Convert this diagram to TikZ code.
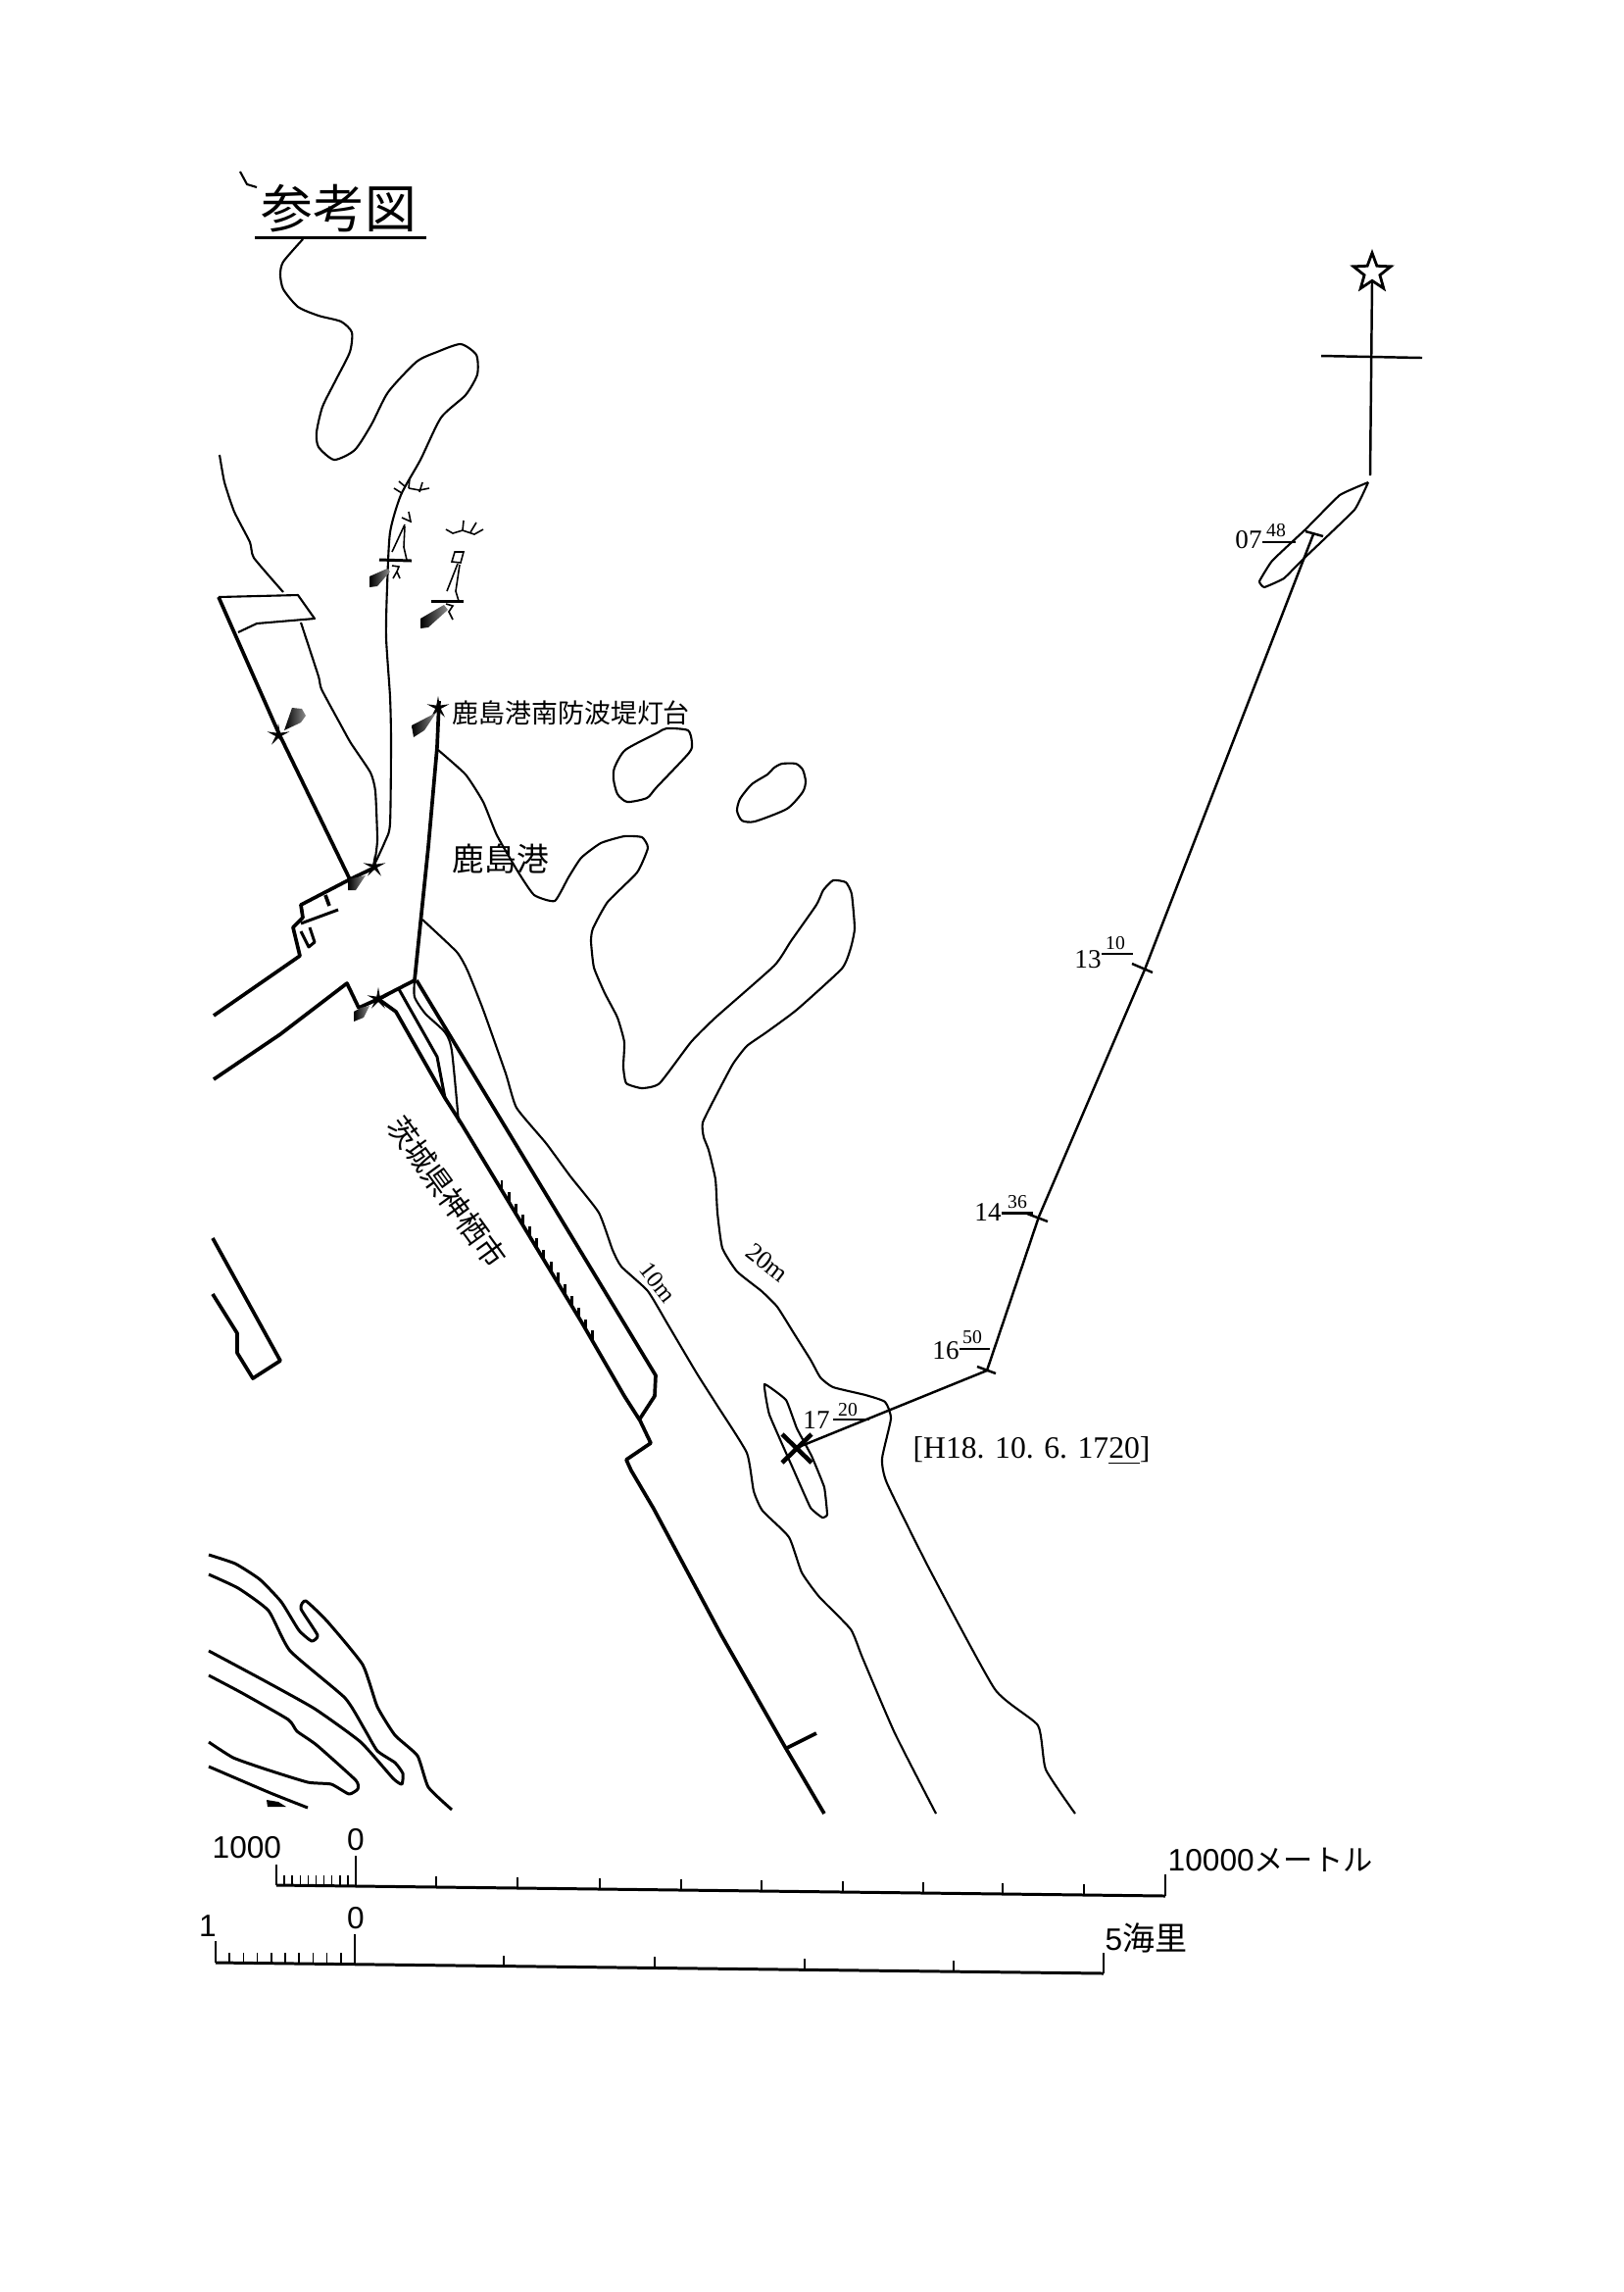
\documentclass[tikz,border=0pt]{standalone}
\usepackage{fontspec}
\setmainfont{Liberation Serif}
\newfontfamily\jpfont{Noto Sans CJK JP}
\newfontfamily\hlvfont{Liberation Sans}
\usetikzlibrary{shapes.geometric}
\tikzset{
  coast/.style={line width=0.6pt,line join=round},
  wall/.style={line width=1.05pt,line join=round},
  river/.style={line width=0.85pt,line join=round},
  thinmark/.style={line width=0.45pt},
  track/.style={line width=0.7pt},
  hatch/.style={left color=black,right color=black!45,draw=none},
  lightstar/.style={star,star points=5,star point ratio=4,fill=black,inner sep=0pt,minimum size=0.24cm},
  timelbl/.style={inner sep=0pt,font=\fontsize{7.7}{8}\selectfont},
  minlbl/.style={inner sep=0pt,font=\fontsize{5.6}{6}\selectfont},
  jplbl/.style={inner sep=0pt,font=\jpfont\fontsize{9.3}{10}\selectfont},
  barlbl/.style={inner sep=0pt,font=\hlvfont\fontsize{9}{10}\selectfont}
}
\begin{document}
\begin{tikzpicture}[x=0.01cm,y=-0.01cm]
\useasboundingbox (0,0) rectangle (1656,2338);
% title
\node[inner sep=0pt,font=\jpfont\fontsize{15}{15}\selectfont] (title) at (346,213) {参考図};
\coordinate (ulA) at (260,242);
\coordinate (ulB) at (435,242);
\draw[river] (ulA) -- (ulB);
\draw[coast] (245,175) -- (252,188) -- (262,191);
% coast north of the port
\draw[coast] plot[smooth,tension=.4] coordinates {(309,244) (289,267) (286,280) (289,295) (304,313) (325,322) (348,328) (359,339) (357,359) (343,387) (329,415) (323,441) (325,456) (341,469) (362,459) (379,433) (396,400) (425,369) (446,359) (470,351) (486,362) (487,382) (475,403) (450,426) (429,469) (409,505) (398,543) (395,599) (394,650) (398,711) (399,757) (398,840) (393,858) (382,882)};
\draw[coast] plot[smooth,tension=.3] coordinates {(224,464) (229,492) (239,522) (255,553) (259,569) (289,604)};
\draw[coast] plot[smooth,tension=.3] coordinates {(307,635) (325,690) (328,703) (348,740) (358,758) (378,788) (383,807) (385,857) (382,882)};
\draw[coast] (223,609) -- (304,607) -- (321,631) -- (262,636) -- (243,645);
% breakwaters and the shore
\draw[wall] (223,609) -- (284,747) -- (357,897);
\draw[wall] (448,715) -- (446,762) -- (437,864) -- (423,1000);
\draw[wall] (382,885) -- (357,897) -- (307,923) -- (309,936) -- (299,946) -- (306,975) -- (218,1036);
\draw[wall] (332,913) -- (336,924);
\draw[river] (345,928) -- (307,942);
\draw[river] (307,950) -- (315,966) -- (321,961) -- (316,946);
\draw[wall] (218,1101) -- (286,1055) -- (354,1003) -- (366,1028) -- (386,1019) -- (423,1000);
\draw[wall] (386,1019) -- (404,1032) -- (454,1120) -- (470,1145) -- (593,1348) -- (637,1424) -- (653,1449) -- (664,1472) -- (639,1489) -- (644,1500) -- (667,1539) -- (736,1668) -- (801,1782) -- (841,1850);
\draw[wall] (801,1784) -- (833,1768);
\draw[river] (407,1009) -- (446,1078) -- (454,1120);
\draw[coast] plot[smooth,tension=.4] coordinates {(423,1000) (423,1017) (434,1034) (454,1053) (461,1072) (468,1145)};
\draw[wall] (425,1000) -- (669,1403) -- (668,1424) -- (653,1447);
% pier ticks
\foreach \p in {0,...,13}{
  \pgfmathsetmacro{\px}{512+\p*7.15}
  \pgfmathsetmacro{\py}{1214+\p*11.8}
  \draw[river] (\px,\py) -- ++(0,-10);
}
% 10m contour
\draw[coast] plot[smooth,tension=.3] coordinates {(431,938) (466,971) (477,990) (493,1030) (516,1095) (527,1130) (557,1166) (582,1200) (611,1237) (625,1275) (634,1292) (661,1317) (682,1352) (711,1401) (732,1434) (762,1482) (769,1521) (778,1541) (805,1568) (818,1604) (836,1629) (868,1662) (880,1691) (913,1768) (955,1850)};
% 20m contour
\draw[coast] plot[smooth,tension=.3] coordinates {(447,765) (475,790) (493,818) (507,852) (529,890) (545,913) (566,919) (580,895) (593,875) (613,860) (637,853) (655,854) (661,865) (650,890) (620,920) (605,947) (603,960) (606,987) (617,1013) (630,1038) (637,1063) (636,1088) (639,1105) (655,1110) (673,1105) (705,1063) (730,1038) (790,985) (807,960) (833,923) (840,908) (850,898) (863,900) (869,912) (872,947) (868,967) (859,988) (813,1030) (782,1053) (762,1067) (748,1085) (733,1113) (717,1145) (718,1160) (723,1173) (730,1203) (732,1237) (737,1273) (752,1297) (777,1317) (793,1333) (810,1360) (827,1387) (837,1405) (850,1415) (883,1423) (903,1430) (909,1447) (900,1488) (905,1513) (948,1600) (1015,1723) (1059,1760) (1067,1805) (1097,1850)};
% shoals
\draw[coast] plot[smooth cycle,tension=.4] coordinates {(638,765) (670,748) (680,743) (702,745) (706,758) (703,768) (670,803) (660,814) (640,818) (630,810) (626,795) (627,783)};
\draw[coast] plot[smooth cycle,tension=.4] coordinates {(790,783) (798,779) (812,779) (819,785) (822,797) (819,808) (803,825) (770,838) (757,837) (752,827) (755,815) (767,800) (783,790)};
% rivers
\draw[river] plot[smooth,tension=.3] coordinates {(213,1586) (240,1595) (265,1611) (287,1634) (305,1663) (318,1674) (324,1668) (307,1641) (312,1633) (334,1654) (370,1698) (385,1741) (403,1770) (426,1791) (437,1823) (461,1846)};
\draw[river] plot[smooth,tension=.3] coordinates {(213,1606) (243,1620) (274,1643) (296,1684) (352,1732) (372,1764) (385,1786) (403,1798) (411,1809) (410,1820) (401,1814) (368,1777) (321,1743) (269,1714) (213,1684)};
\draw[river] plot[smooth,tension=.3] coordinates {(213,1709) (247,1727) (294,1754) (303,1766) (323,1780) (363,1816) (365,1825) (356,1830) (338,1820) (314,1818) (272,1805) (238,1793) (213,1777)};
\draw[river] plot[smooth,tension=.3] coordinates {(213,1802) (276,1829) (314,1844)};
\fill (272,1836) -- (284,1838) -- (292,1843) -- (273,1843) -- cycle;
\draw[wall] (217,1263) -- (286,1388) -- (258,1406) -- (242,1380) -- (242,1360) -- (217,1320);
% lights
\node[lightstar] (starA) at (284,750) {};
\node[lightstar] (starB) at (382,884) {};
\node[lightstar] (starC) at (447,722) {};
\node[lightstar] (starD) at (386,1019) {};
\shade[hatch] (290,745) -- (298,722) -- (308,723) -- (312,730) -- (307,737) -- cycle;
\shade[hatch] (355,897) -- (373,893) -- (363,908) -- (355,908) -- cycle;
\shade[hatch] (420,740) -- (445,727) -- (433,745) -- (422,752) -- cycle;
\shade[hatch] (361,1032) -- (368,1028) -- (377,1026) -- (371,1038) -- (361,1042) -- cycle;
% two beacons on the north shore
\shade[hatch] (377,588) -- (395,580) -- (398,583) -- (385,598) -- (377,599) -- cycle;
\shade[hatch] (429,631) -- (453,617) -- (457,622) -- (437,640) -- (429,641) -- cycle;
\draw[thinmark] (402,498) -- (410,503);
\draw[thinmark] (417,498) -- (428,500) -- (438,498);
\draw[thinmark] (418,488) -- (417,498);
\draw[thinmark] (431,492) -- (428,502);
\draw[thinmark] (407,491) -- (413,496);
\draw[thinmark] (410,528) -- (419,532) -- (417,522);
\draw[thinmark] (413,535) -- (400,563);
\draw[thinmark] (413,537) -- (412,558) -- (415,571);
\draw[river] (387,571) -- (420,572);
\draw[thinmark] (400,577) -- (407,578) -- (405,583) -- (401,590);
\draw[thinmark] (405,583) -- (408,590);
\draw[thinmark] (455,540) -- (462,544) -- (472,541) -- (484,545) -- (493,540);
\draw[thinmark] (473,531) -- (472,541);
\draw[thinmark] (486,533) -- (480,543);
\draw[thinmark] (464,563) -- (473,563) -- (470,574) -- (461,573) -- cycle;
\draw[thinmark] (467,575) -- (456,603);
\draw[thinmark] (469,576) -- (465,603) -- (468,613);
\draw[river] (440,613) -- (473,613);
\draw[thinmark] (455,616) -- (462,618) -- (458,624) -- (462,632);
% ship at top and the north mark
\node[star,star points=5,star point ratio=2.4,draw,line width=0.8pt,inner sep=0pt,minimum size=0.4cm] (northstar) at (1400,278) {};
\coordinate (poleend) at (1398,485);
\coordinate (crossW) at (1348,363);
\coordinate (crossE) at (1451,365);
\draw[track] (northstar.south) -- (poleend);
\draw[track] (crossW) -- (crossE);
\draw[coast] plot[smooth,tension=.2] coordinates {(1396,492) (1367,505) (1332,540) (1298,572) (1285,593) (1290,599) (1310,590) (1330,570) (1382,520) (1396,492)};
% track
\coordinate (t0748) at (1340,545);
\coordinate (t1310) at (1168,989);
\coordinate (t1436) at (1060,1241);
\coordinate (t1650) at (1007,1398);
\coordinate (t1720) at (810,1478);
\draw[track] (t0748) -- (t1310) -- (t1436) -- (t1650) -- (t1720);
\draw[track] (1332,542) -- (1350,547);
\draw[track] (1155,983) -- (1176,992);
\draw[track] (1048,1238) -- (1069,1246);
\draw[track] (997,1394) -- (1016,1401);
% wreck
\draw[coast] plot[smooth cycle,tension=.2] coordinates {(780,1412) (802,1428) (813,1457) (828,1485) (841,1517) (844,1545) (839,1548) (827,1538) (810,1500) (785,1443)};
\draw[line width=1.3pt] (798,1492) -- (828,1463);
\draw[line width=1.3pt] (798,1463) -- (828,1492);
% time labels
\node[timelbl] (h07) at (1274,551) {07};
\node[minlbl] (m07) at (1302,541) {48};
\draw[coast] (h07.east) ++(0,2) -- ++(34,0);
\node[timelbl] (h13) at (1110,979) {13};
\node[minlbl] (m13) at (1138,962) {10};
\draw[coast] (h13.east) ++(0,-6) -- ++(32,0);
\node[timelbl] (h14) at (1008,1237) {14};
\node[minlbl] (m14) at (1038,1226) {36};
\draw[river] (h14.east) -- ++(32,0);
\node[timelbl] (h16) at (965,1378) {16};
\node[minlbl] (m16) at (992,1364) {50};
\draw[coast] (h16.east) ++(0,-2) -- ++(31,0);
\node[timelbl] (h17) at (833,1449) {17};
\node[minlbl] (m17) at (865,1438) {20};
\draw[coast] (h17.east) ++(3,-1) -- ++(37,0);
\node[inner sep=0pt,anchor=west,font=\fontsize{9}{10}\selectfont] (stamp) at (931,1480) {[H18. 10. 6. 17\underline{20}]};
% place names
\node[jplbl,font=\jpfont\fontsize{7.65}{8}\selectfont,anchor=west] (lighthouse) at (461,727) {鹿島港南防波堤灯台};
\node[jplbl,anchor=west] (port) at (461,876) {鹿島港};
\node[jplbl,rotate=-54,font=\jpfont\fontsize{8.6}{9}\selectfont] (city) at (456,1216) {茨城県神栖市};
\node[minlbl,rotate=-52,font=\fontsize{7}{8}\selectfont] (tenm) at (671,1308) {10m};
\node[minlbl,rotate=-38,font=\fontsize{7.5}{8}\selectfont] (twentym) at (783,1288) {20m};
% metre scale
\coordinate (mL) at (282,1923);
\coordinate (mR) at (1189,1934);
\coordinate (mZ) at (363,1924);
\draw[river] (mL) -- (mR);
\draw[thinmark] (mL) -- ++(0,-21);
\draw[thinmark] (mR) -- ++(0,-22);
\draw[thinmark] (mZ) -- ++(0,-31);
\foreach \s in {1,...,9}{
  \pgfmathsetmacro{\sx}{282+\s*8.1}
  \draw[thinmark] (\sx,1924) -- ++(0,-11);
}
\foreach \mx in {445,528,612,695,777,860,942,1023,1106}{
  \pgfmathsetmacro{\my}{1923+(\mx-282)*11/907}
  \draw[thinmark] (\mx,\my) -- ++(0,-11);
}
\node[barlbl,anchor=west] (bar1000) at (216,1885) {1000};
\node[barlbl] (barzero) at (363,1877) {0};
\node[barlbl,anchor=west] (barend) at (1191,1897) {10000\jpfont\fontsize{8.6}{9}\selectfont メートル};
% sea mile scale
\coordinate (nL) at (220,2002);
\coordinate (nR) at (1126,2013);
\coordinate (nZ) at (362,2004);
\draw[river] (nL) -- (nR);
\draw[thinmark] (nL) -- ++(0,-22);
\draw[thinmark] (nR) -- ++(0,-21);
\draw[thinmark] (nZ) -- ++(0,-31);
\foreach \s in {1,...,9}{
  \pgfmathsetmacro{\sx}{220+\s*14.2}
  \draw[thinmark] (\sx,2003) -- ++(0,-11);
}
\foreach \mx in {514,668,821,973}{
  \pgfmathsetmacro{\my}{2002+(\mx-220)*11/906}
  \draw[thinmark] (\mx,\my) -- ++(0,-11);
}
\node[barlbl] (nm1) at (212,1965) {1};
\node[barlbl] (nmzero) at (363,1957) {0};
\node[barlbl,anchor=west] (nmend) at (1127,1977) {5\jpfont\fontsize{9.4}{10}\selectfont 海里};
\end{tikzpicture}
\end{document}
